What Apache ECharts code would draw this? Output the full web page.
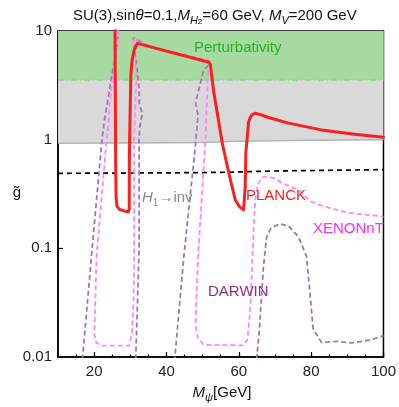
<!DOCTYPE html>
<html><head><meta charset="utf-8">
<script src="https://cdn.jsdelivr.net/npm/echarts@6/dist/echarts.min.js"></script>
<style>html,body{margin:0;padding:0;background:#fff}#c{width:399px;height:407px}</style>
</head><body><div id="c"></div>
<script>
// ---- data ----
const xLabelValues = [20, 40, 60, 80, 100];
const yTickValues = [0.01, 0.1, 1, 10];

const planckM = [25.75, 25.85, 25.95, 26.05, 26.3, 27.0, 28.5, 29.4, 29.65, 29.7, 29.72, 29.8, 30.14, 30.5, 31.05, 31.95, 51.7, 52.15, 53.05, 54.43, 55.5, 57.65, 59.0, 60.2, 61.3, 61.77, 61.94, 62.68, 63.15, 63.6, 64.5, 66.0, 68.2, 73.7, 82.85, 92.0, 100];
const planckG = [12, 3.0, 0.6, 0.3, 0.245, 0.228, 0.22, 0.216, 0.22, 0.23, 0.5, 1.0, 3.9, 5.4, 6.68, 7.7, 5.15, 4.9, 2.77, 1.47, 0.9, 0.43, 0.28, 0.241, 0.226, 0.37, 0.76, 1.45, 1.6, 1.69, 1.75, 1.7, 1.6, 1.42, 1.23, 1.124, 1.05];

const xenonM = [26.9, 26.6, 26.1, 25.08, 24.3, 23.7, 23.43, 20.67, 20.04, 20.6, 21.88, 29.67, 30.41, 30.9, 31.05, 31.05, 31.68, 31.32, 30.77, 35.17, 51.68, 52.0, 51.5, 50.77, 48.73, 48.02, 48.65, 50.3, 61.31, 62.4, 63.15, 64.06, 64.53, 65.3, 66.3, 67.28, 70.0, 71.8, 76.44, 80.0, 81.94, 90.2, 100];
const xenonG = [12, 8, 5.5, 3.55, 2.2, 1.107, 1.0, 0.0838, 0.0161, 0.01355, 0.01274, 0.0127, 0.0161, 0.0337, 0.097, 1.0, 3.94, 5.65, 8.62, 7.13, 5.15, 4.8, 4.2, 1.0, 0.0843, 0.0207, 0.0151, 0.0129, 0.0128, 0.0145, 0.0273, 0.139, 0.28, 0.39, 0.445, 0.458, 0.44, 0.4, 0.346, 0.27, 0.252, 0.212, 0.196];

const darwin1M = [16.6, 16.82, 19.41, 22.16, 22.79, 24.17, 24.64, 26.0, 26.5, 26.7];
const darwin1G = [0.008, 0.01, 0.097, 1.0, 1.47, 2.77, 3.55, 6, 8, 12];
const darwin2M = [31.45, 31.51, 32.42, 32.42, 32.6, 33.3, 32.5, 32.42, 31.5, 30.77, 35.17, 51.68, 52.1, 50.3, 48.02, 48.73, 48.02, 44.8, 42.32, 42.2];
const darwin2G = [0.008, 0.01, 0.097, 1.0, 1.3, 1.75, 2.1, 2.99, 5.65, 8.7, 7.22, 5.3, 5.0, 4.39, 2.18, 1.69, 0.896, 0.0843, 0.01, 0.008];
const darwin3M = [64.9, 64.97, 65.63, 66.81, 67.72, 69.0, 71.4, 73.7, 76.44, 78.72, 79.66, 80.56, 82.85, 87.44, 91.1, 96.6, 100];
const darwin3G = [0.008, 0.0101, 0.0167, 0.0683, 0.1285, 0.155, 0.168, 0.161, 0.1285, 0.0843, 0.0388, 0.0179, 0.01365, 0.0139, 0.01346, 0.0144, 0.0157];

const invM = [10, 40, 55, 70, 100];
const invG = [0.49, 0.495, 0.5, 0.515, 0.53];

const grayM = [10, 30, 50, 60, 80, 100];
const grayG = [0.925, 0.93, 0.94, 0.965, 0.99, 1.0];

const pertM = [10, 100];
const pertG = [3.545, 3.545];

const pair = (xs, ys) => xs.map((x, i) => [x, ys[i]]);
const FONT = 'Liberation Sans, Arial, sans-serif';

const chart = echarts.init(document.getElementById('c'), null, {renderer: 'canvas'});
const dashedSeries = (data, color, z) => ({
  type: 'line', data, symbol: 'none', silent: true, z,
  lineStyle: {color, width: 1.8, type: [5, 3]}
});

chart.setOption({
  animation: false,
  backgroundColor: '#fff',
  title: {
    left: 68, top: 1,
    text: '{n|SU(3),sin}{i|θ}{n|=0.1,}{i|M}{s|H}{ss|2}{n|=60 GeV, }{i|M}{s|V}{n|=200 GeV}',
    textStyle: {
      fontFamily: FONT, fontWeight: 'normal', color: '#111', fontSize: 15,
      rich: {
        n: {fontFamily: FONT, fontSize: 15, color: '#111', lineHeight: 20},
        i: {fontFamily: FONT, fontSize: 15, color: '#111', fontStyle: 'italic', lineHeight: 20},
        s: {fontFamily: FONT, fontSize: 11, color: '#111', fontStyle: 'italic', verticalAlign: 'bottom', lineHeight: 12},
        ss: {fontFamily: FONT, fontSize: 8, color: '#111', verticalAlign: 'bottom', lineHeight: 8}
      }
    }
  },
  grid: {left: 58, right: 13, top: 31, bottom: 50, show: true, borderColor: '#000', borderWidth: 1.5, backgroundColor: 'transparent'},
  xAxis: [{
    type: 'value', min: 10, max: 100, interval: 5,
    axisLine: {show: true, onZero: false, lineStyle: {color: '#000', width: 1.5}},
    axisTick: {show: true, inside: true, length: 2.5, lineStyle: {color: '#000', width: 1.2}},
    axisLabel: {margin: 7, color: '#222', fontSize: 15, fontFamily: FONT,
      formatter: v => (xLabelValues.includes(v) ? String(v) : '')},
    splitLine: {show: false}
  }, {
    type: 'value', min: 10, max: 100, position: 'bottom',
    axisLine: {show: false},
    axisTick: {show: true, inside: true, length: 5, customValues: xLabelValues, lineStyle: {color: '#000', width: 1.2}},
    axisLabel: {show: false},
    splitLine: {show: false}
  }],
  yAxis: {
    type: 'log', logBase: 10, min: 0.01, max: 10,
    axisLine: {show: true, lineStyle: {color: '#000', width: 1.5}},
    axisTick: {show: true, inside: true, length: 5, lineStyle: {color: '#000', width: 1.2}},
    minorTick: {show: false},
    axisLabel: {margin: 6, color: '#222', fontSize: 15, fontFamily: FONT,
      formatter: v => {
        const r = +(+v).toPrecision(3);
        return yTickValues.includes(r) ? String(r) : '';
      }},
    splitLine: {show: false}
  },
  series: [
    {type: 'line', data: pair(grayM, grayG), symbol: 'none', silent: true, z: 1,
      lineStyle: {color: '#b4b4b4', width: 1.5},
      areaStyle: {color: '#d9d9d9', origin: 'end', opacity: 1}},
    {type: 'line', data: pair(pertM, pertG), symbol: 'none', silent: true, z: 2,
      lineStyle: {color: '#86dc86', width: 1.5, type: [6, 3, 1, 3]},
      areaStyle: {color: '#a7daa1', origin: 'end', opacity: 1}},
    {type: 'line', data: pair(invM, invG), symbol: 'none', silent: true, z: 3,
      lineStyle: {color: '#000', width: 1.7, type: [5, 4]}},
    dashedSeries(pair(darwin1M, darwin1G), '#a874b8', 4),
    dashedSeries(pair(darwin2M, darwin2G), '#a874b8', 4),
    dashedSeries(pair(darwin3M, darwin3G), '#a874b8', 4),
    dashedSeries(pair(xenonM, xenonG), '#ff85ff', 5),
    {type: 'line', data: pair(planckM, planckG), symbol: 'none', silent: true, z: 6,
      lineStyle: {color: '#ff1e1e', width: 3, join: 'round', cap: 'round'}}
  ],
  graphic: [
    {type: 'text', x: 194, y: 48, z: 100, style: {text: 'Perturbativity', fill: '#22b422', font: '15px ' + FONT, align: 'left', verticalAlign: 'middle'}},
    {type: 'text', x: 246, y: 196, z: 100, style: {text: 'PLANCK', fill: '#ff1e1e', font: '15px ' + FONT, align: 'left', verticalAlign: 'middle'}},
    {type: 'text', x: 313, y: 229, z: 100, style: {text: 'XENONnT', fill: '#ff2cff', font: '15px ' + FONT, align: 'left', verticalAlign: 'middle'}},
    {type: 'text', x: 208, y: 292, z: 100, style: {text: 'DARWIN', fill: '#8e2f8e', font: '15px ' + FONT, align: 'left', verticalAlign: 'middle'}},
    {type: 'text', x: 142, y: 198, z: 100, style: {
      text: '{i|H}{s|1}{n|→inv}', align: 'left', verticalAlign: 'middle',
      rich: {
        i: {fill: '#8a8a8a', fontFamily: FONT, fontSize: 15, fontStyle: 'italic', lineHeight: 20},
        s: {fill: '#8a8a8a', fontFamily: FONT, fontSize: 10, verticalAlign: 'bottom', lineHeight: 11},
        n: {fill: '#8a8a8a', fontFamily: FONT, fontSize: 15, lineHeight: 20}
      }}},
    {type: 'text', x: 222, y: 393, z: 100, style: {
      text: '{i|M}{s|ψ}{n|[GeV]}', align: 'center', verticalAlign: 'middle',
      rich: {
        i: {fill: '#111', fontFamily: FONT, fontSize: 15, fontStyle: 'italic', lineHeight: 20},
        s: {fill: '#111', fontFamily: FONT, fontSize: 11, fontStyle: 'italic', verticalAlign: 'bottom', lineHeight: 12},
        n: {fill: '#111', fontFamily: FONT, fontSize: 15, lineHeight: 20}
      }}},
    {type: 'text', x: 17, y: 193, z: 100, style: {text: 'g\u0303', fill: '#111', font: '15px ' + FONT, align: 'center', verticalAlign: 'middle'}}
  ]
});
</script>
</body></html>
